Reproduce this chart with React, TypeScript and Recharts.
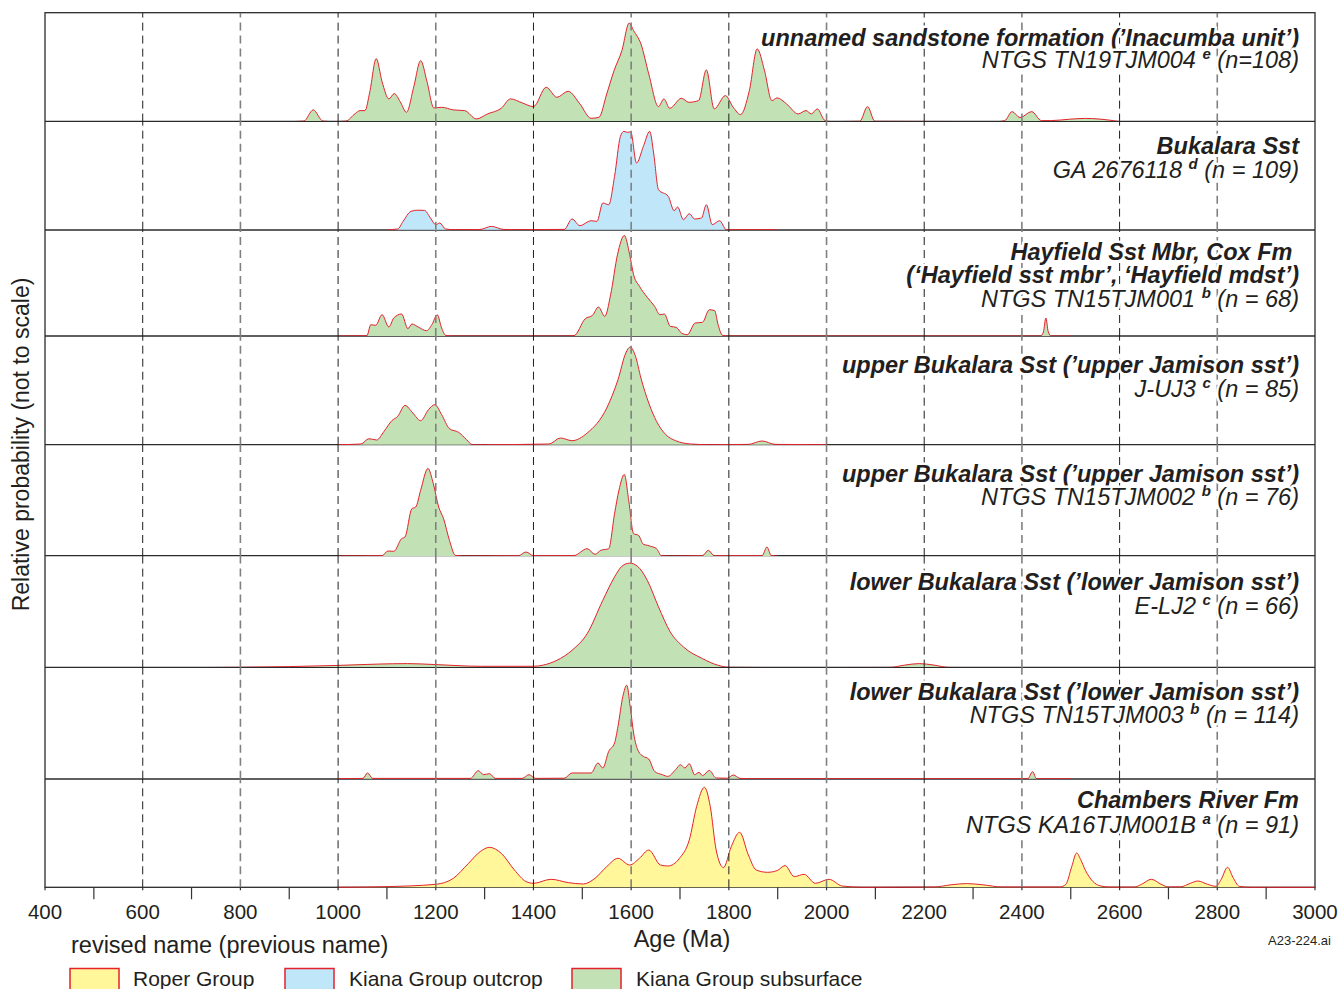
import React from 'react';
import { AreaChart, Area, XAxis, YAxis, ReferenceLine } from 'recharts';

// [age (Ma), relative probability], one curve per sample
const inacumba = [
  [900, 0], [930, 0.5], [949, 11.7], [969, 0.5], [990, 0], [1016, 0.5], [1035, 8], [1045, 11], [1055, 11],
  [1065, 30], [1078, 63], [1090, 40], [1104, 22.7], [1115, 28], [1127, 20], [1140, 9.3], [1155, 35],
  [1169, 61], [1182, 40], [1196, 13.7], [1212, 14.3], [1236, 11.7], [1259, 11], [1283, 2.7], [1306, 7.7],
  [1334, 13.3], [1353, 22.7], [1377, 18.7], [1400, 15], [1426, 34.3], [1448, 24.3], [1471, 30.3],
  [1495, 17.7], [1518, 3.3], [1534, 4.3], [1550, 27.7], [1565, 51], [1581, 71], [1596, 98.5], [1605, 91],
  [1620, 77.7], [1636, 47.7], [1656, 15], [1667, 22.7], [1679, 13.3], [1703, 23.3], [1718, 19.3],
  [1738, 21], [1754, 51.7], [1770, 12.7], [1793, 26], [1809, 14.3], [1824, 7], [1842, 31], [1858, 72.7],
  [1873, 51], [1888, 21], [1899, 23.7], [1918, 17.7], [1942, 7.7], [1958, 11], [1969, 7.7], [1981, 12.7],
  [1997, 1], [2010, 0], [2068, 0.3], [2084, 15], [2099, 0.3], [2350, 0], [2365, 1], [2380, 10], [2396, 4],
  [2420, 10], [2440, 1], [2460, 1], [2500, 2.5], [2530, 3.2], [2560, 2.5], [2600, 0],
];

const bukalara = [
  [1100, 0], [1122, 0.7], [1133, 8.3], [1149, 18.3], [1163, 19.5], [1177, 19.3], [1189, 11.7], [1200, 5],
  [1208, 6.7], [1220, 0.7], [1240, 0], [1290, 0.2], [1314, 3.3], [1338, 0.3], [1360, 0], [1463, 0.3],
  [1479, 10.7], [1495, 4], [1518, 9], [1530, 8.3], [1542, 26.7], [1554, 25], [1566, 53.3], [1578, 93.3],
  [1585, 98.3], [1593, 97.3], [1599, 98], [1611, 66.7], [1625, 83.3], [1638, 98.3], [1646, 76.7],
  [1656, 40], [1676, 33.3], [1688, 19], [1695, 22.7], [1707, 10], [1719, 16], [1730, 10.7], [1744, 11.7],
  [1754, 25], [1766, 5], [1781, 9], [1795, 0], [1900, 0],
];

const hayfield = [
  [1000, 0], [1059, 0.3], [1067, 11.3], [1077, 10.7], [1090, 21.3], [1104, 9], [1114, 18], [1130, 22],
  [1143, 7.3], [1151, 12], [1165, 8.7], [1181, 5.3], [1192, 11.3], [1203, 21.3], [1212, 8], [1220, 0.7],
  [1235, 0], [1470, 0], [1483, 0.3], [1506, 17.3], [1521, 20.7], [1533, 29], [1546, 19.7], [1558, 41.3],
  [1572, 81.3], [1586, 100.5], [1597, 81.3], [1605, 61.3], [1617, 49.7], [1633, 38.7], [1648, 29.7],
  [1659, 21.3], [1668, 22], [1680, 9.7], [1692, 8.7], [1703, 3], [1715, 1.3], [1731, 13], [1746, 13.7],
  [1760, 26.3], [1771, 25.3], [1778, 11.3], [1787, 0.7], [1800, 0], [2438, 0], [2444, 4], [2449, 18],
  [2454, 4], [2460, 0], [2500, 0],
];

const jUJ3 = [
  [1000, 0], [1047, 0.7], [1063, 6], [1079, 4.7], [1094, 13.3], [1110, 24], [1122, 28.3], [1137, 39.3],
  [1153, 31.7], [1169, 24], [1185, 35], [1198, 40], [1212, 30], [1228, 16], [1247, 12.3], [1263, 5],
  [1275, 0], [1300, 0], [1432, 0.7], [1455, 6.7], [1479, 4], [1510, 11.7], [1550, 36.7], [1573, 65],
  [1589, 91.7], [1598, 97.7], [1609, 88.3], [1620, 66.7], [1636, 41.7], [1652, 23.3], [1671, 10],
  [1691, 4], [1722, 0.7], [1760, 0], [1840, 0.3], [1868, 3.7], [1895, 0.3], [2000, 0],
];

const tn15tjm002 = [
  [1000, 0], [1090, 0.3], [1102, 5], [1114, 4.7], [1130, 17.3], [1137, 19], [1151, 47.3], [1159, 49],
  [1169, 65.7], [1184, 87.5], [1195, 72.3], [1206, 49], [1216, 37.3], [1228, 15.7], [1240, 0.7],
  [1255, 0], [1369, 0.3], [1385, 4], [1400, 0.3], [1483, 0.5], [1510, 7.3], [1526, 1.7], [1538, 5.7],
  [1554, 7.3], [1566, 42.3], [1575, 65.7], [1586, 81.5], [1595, 55.7], [1605, 22.3], [1615, 20.7],
  [1625, 11.7], [1633, 10.7], [1640, 9.7], [1652, 7.3], [1662, 0.3], [1680, 0], [1746, 0.3], [1758, 5.7],
  [1770, 0.3], [1868, 0.3], [1878, 9], [1887, 0.3], [1900, 0],
];

const eLJ2 = [
  [700, 0], [800, 0.3], [900, 1], [1000, 2.2], [1080, 3.5], [1142, 4], [1200, 3], [1291, 1.3], [1400, 1.3],
  [1420, 2.5], [1448, 7.3], [1479, 17.3], [1510, 34], [1542, 67.3], [1566, 90.7], [1581, 101.3],
  [1597, 104.5], [1613, 101.3], [1633, 87.3], [1656, 60.7], [1680, 35.7], [1707, 20.7], [1746, 9],
  [1778, 2.3], [1801, 0.3], [1900, 0], [2130, 0.2], [2160, 2.5], [2190, 4], [2220, 2.5], [2250, 0.2],
  [2300, 0],
];

const tn15tjm003 = [
  [1000, 0], [1051, 0.3], [1060, 5.7], [1071, 0.3], [1271, 0.3], [1287, 8], [1298, 4], [1310, 5],
  [1322, 0.3], [1377, 0.3], [1391, 4], [1404, 0.3], [1463, 0.5], [1479, 5.7], [1518, 5.7], [1532, 15.7],
  [1542, 10.7], [1554, 27.3], [1566, 35.7], [1573, 52.3], [1583, 82.3], [1591, 93.5], [1598, 72.3],
  [1605, 45.7], [1615, 27.3], [1625, 22.3], [1636, 19.7], [1648, 7.3], [1664, 4], [1675, 2.3], [1691, 9],
  [1701, 14], [1710, 10.7], [1719, 15], [1730, 4], [1739, 6.3], [1746, 3], [1760, 8.3], [1774, 0.7],
  [1797, 0.5], [1809, 3.7], [1823, 0.3], [1840, 0], [2412, 0], [2422, 7], [2430, 0], [2500, 0],
];

const chambers = [
  [1000, 0], [1102, 0.7], [1200, 3], [1236, 9], [1267, 24], [1291, 35.7], [1310, 40], [1334, 34],
  [1361, 17.3], [1385, 5.7], [1400, 4], [1436, 8], [1471, 4.7], [1502, 3.3], [1526, 9], [1550, 20.7],
  [1573, 29], [1597, 22.3], [1617, 29], [1636, 37.3], [1660, 22.3], [1675, 21.3], [1699, 29], [1719, 47.3],
  [1734, 80.7], [1750, 100], [1762, 80.7], [1774, 37.3], [1789, 19.7], [1805, 40.7], [1822, 55],
  [1840, 32.3], [1856, 17.3], [1879, 15], [1899, 16.7], [1915, 21.7], [1934, 10.7], [1954, 13], [1977, 4],
  [2005, 8], [2032, 1.3], [2075, 0], [2220, 0.3], [2255, 2.5], [2287, 3.7], [2320, 2.5], [2360, 0.3],
  [2478, 0.3], [2490, 3], [2502, 20.7], [2512, 34.3], [2520, 28], [2530, 17], [2545, 6], [2560, 1.5],
  [2580, 0.2], [2630, 0.2], [2645, 3], [2665, 8], [2685, 3], [2700, 0.3], [2725, 0.5], [2745, 4],
  [2760, 6.3], [2780, 3], [2797, 1], [2808, 8], [2821, 20], [2832, 10], [2845, 1], [2870, 0], [3000, 0],
];

const ageTicks = [400, 500, 600, 700, 800, 900, 1000, 1100, 1200, 1300, 1400, 1500, 1600, 1700, 1800,
  1900, 2000, 2100, 2200, 2300, 2400, 2500, 2600, 2700, 2800, 2900, 3000];
const blackGrid = [600, 1000, 1400, 1800, 2200, 2600];
const grayGrid = [800, 1200, 1600, 2000, 2400, 2800];

const GREEN = '#c2e1b5';
const BLUE = '#bfe6f9';
const YELLOW = '#fff799';
const RED = '#e3222b';
const INK = '#231f20';
const FONT = '"Liberation Sans", Arial, Helvetica, sans-serif';

const LEFT = 45;
const PLOT_W = 1270;
const edges = [12.7, 121.3, 230, 336, 444.7, 555.7, 667.3, 779, 887.3];
const AXIS_H = 50;
const SIDE = 30; // room for the end tick labels on the bottom chart

const panels = [
  { data: inacumba, fill: GREEN, titles: ['unnamed sandstone formation (’Inacumba unit’)'], code: 'NTGS TN19TJM004', sup: 'e', n: '(n=108)' },
  { data: bukalara, fill: BLUE, titles: ['Bukalara Sst'], code: 'GA 2676118', sup: 'd', n: '(n = 109)' },
  { data: hayfield, fill: GREEN, titles: ['Hayfield Sst Mbr, Cox Fm ', '(‘Hayfield sst mbr’, ‘Hayfield mdst’)'], code: 'NTGS TN15TJM001', sup: 'b', n: '(n = 68)' },
  { data: jUJ3, fill: GREEN, titles: ['upper Bukalara Sst (’upper Jamison sst’)'], code: 'J-UJ3', sup: 'c', n: '(n = 85)' },
  { data: tn15tjm002, fill: GREEN, titles: ['upper Bukalara Sst (’upper Jamison sst’)'], code: 'NTGS TN15TJM002', sup: 'b', n: '(n = 76)' },
  { data: eLJ2, fill: GREEN, titles: ['lower Bukalara Sst (’lower Jamison sst’)'], code: 'E-LJ2', sup: 'c', n: '(n = 66)' },
  { data: tn15tjm003, fill: GREEN, titles: ['lower Bukalara Sst (’lower Jamison sst’)'], code: 'NTGS TN15TJM003', sup: 'b', n: '(n = 114)' },
  { data: chambers, fill: YELLOW, titles: ['Chambers River Fm'], code: 'NTGS KA16TJM001B', sup: 'a', n: '(n = 91)' },
];

// text baselines for each panel label block
const labelLines = [
  [46, 68.3], [154.3, 177.7], [260, 283.3, 306.7], [372.7, 396.7],
  [481.7, 505], [590, 614], [700, 723.3], [808.3, 832.7],
];
const labelRight = 1299;

const legend = [
  { name: 'Roper Group', fill: YELLOW, box: 70, text: 133 },
  { name: 'Kiana Group outcrop', fill: BLUE, box: 285, text: 349 },
  { name: 'Kiana Group subsurface', fill: GREEN, box: 572, text: 636 },
];

function AgeTick(props: any) {
  const { x, y, payload } = props;
  const v = payload.value;
  const labelled = v % 200 === 0;
  return (
    <g>
      <line x1={x} x2={x} y1={y} y2={y + (labelled ? 3 : 12)} stroke="#333" strokeWidth={1.2} />
      {labelled && (
        <text x={x} y={y + 32} textAnchor="middle" fontSize={20.5} fill={INK} fontFamily={FONT}>
          {v}
        </text>
      )}
    </g>
  );
}

function Panel({ index }: { index: number }) {
  const p = panels[index];
  const h = edges[index + 1] - edges[index];
  const last = index === panels.length - 1;
  const side = last ? SIDE : 0;
  const rows = p.data.map(([age, v]) => ({ age, p: v }));
  return (
    <div style={{ position: 'absolute', left: LEFT - side, top: edges[index] }}>
      <AreaChart
        width={PLOT_W + 2 * side}
        height={h + (last ? AXIS_H : 0)}
        data={rows}
        margin={{ top: 0, right: side, bottom: 0, left: side }}
      >
        <XAxis
          type="number"
          dataKey="age"
          domain={[400, 3000]}
          ticks={ageTicks}
          interval={0}
          hide={!last}
          height={last ? AXIS_H : 0}
          axisLine={false}
          tickLine={false}
          tickSize={0}
          tickMargin={0}
          tick={<AgeTick />}
        />
        <YAxis type="number" domain={[0, h]} hide />
        <Area
          type="monotone"
          dataKey="p"
          stroke={RED}
          strokeWidth={1}
          fill={p.fill}
          fillOpacity={1}
          dot={false}
          activeDot={false}
          isAnimationActive={false}
        />
        {blackGrid.map((a) => (
          <ReferenceLine key={`b${a}`} x={a} stroke="#1e1e1e" strokeWidth={1} strokeDasharray="8 5" />
        ))}
        {grayGrid.map((a) => (
          <ReferenceLine key={`g${a}`} x={a} stroke="#808080" strokeWidth={1.6} strokeDasharray="8 5" />
        ))}
      </AreaChart>
    </div>
  );
}

// white halo so the dashed grid stops behind the labels, as in the figure
const halo = { stroke: '#fff', strokeWidth: 5, strokeLinejoin: 'round' as const, paintOrder: 'stroke' };

function LabelBlock({ index }: { index: number }) {
  const p = panels[index];
  const ys = labelLines[index];
  return (
    <g fontFamily={FONT} fontSize={23.5} fontStyle="italic" textAnchor="end" fill={INK}>
      {p.titles.map((t, j) => (
        <text key={j} x={labelRight} y={ys[j]} fontWeight="bold" style={{ whiteSpace: 'pre', ...halo }}>
          {t}
        </text>
      ))}
      <text x={labelRight} y={ys[ys.length - 1]} style={{ whiteSpace: 'pre', ...halo }}>
        {p.code + ' '}
        <tspan fontSize={15} fontWeight="bold" dy={-9}>{p.sup}</tspan>
        <tspan dy={9}>{' ' + p.n}</tspan>
      </text>
    </g>
  );
}

export default function App() {
  return (
    <div style={{ position: 'absolute', left: 0, top: 0, width: 1341, height: 989, background: '#fff', fontFamily: FONT, overflow: 'hidden' }}>
      <svg width={1341} height={989} style={{ position: 'absolute', left: 0, top: 0 }}>
        <rect x={LEFT} y={edges[0]} width={PLOT_W} height={edges[8] - edges[0]} fill="none" stroke="#2b2b2b" strokeWidth={1.3} />
        {edges.slice(1, 8).map((y) => (
          <line key={y} x1={LEFT} x2={LEFT + PLOT_W} y1={y} y2={y} stroke="#2b2b2b" strokeWidth={1.3} />
        ))}
      </svg>
      {panels.map((_, i) => (
        <Panel key={i} index={i} />
      ))}
      <svg width={1341} height={989} style={{ position: 'absolute', left: 0, top: 0, pointerEvents: 'none' }}>
        {panels.map((_, i) => (
          <LabelBlock key={i} index={i} />
        ))}
        <text
          x={29}
          y={444.5}
          transform="rotate(-90, 29, 444.5)"
          textAnchor="middle"
          fontSize={23}
          fill={INK}
          fontFamily={FONT}
        >
          Relative probability (not to scale)
        </text>
        <text x={682} y={947} textAnchor="middle" fontSize={23.5} fill={INK} fontFamily={FONT}>
          Age (Ma)
        </text>
        <text x={71} y={953} fontSize={23.5} fill={INK} fontFamily={FONT}>
          revised name (previous name)
        </text>
        <text x={1331} y={945} textAnchor="end" fontSize={13} fill={INK} fontFamily={FONT}>
          A23-224.ai
        </text>
        {legend.map((l) => (
          <g key={l.name}>
            <rect x={l.box} y={968.5} width={49} height={22} fill={l.fill} stroke={RED} strokeWidth={1.5} />
            <text x={l.text} y={986} fontSize={21} fill={INK} fontFamily={FONT}>
              {l.name}
            </text>
          </g>
        ))}
      </svg>
    </div>
  );
}
